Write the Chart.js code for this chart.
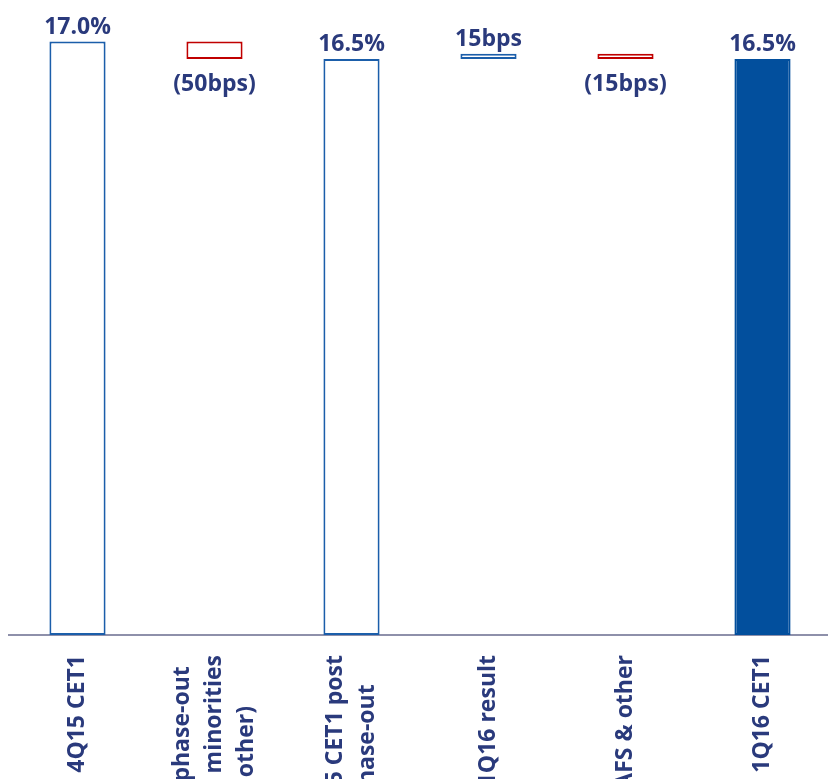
<!DOCTYPE html>
<html>
<head>
<meta charset="utf-8">
<script src="https://cdn.jsdelivr.net/npm/chart.js@4.4.1/dist/chart.umd.min.js"></script>
<style>
  html, body { margin: 0; padding: 0; background: #fff; overflow: hidden; }
  #wrap { width: 831px; height: 779px; position: relative; }
</style>
</head>
<body>
<div id="wrap"><canvas id="chart"></canvas></div>
<script>
// waterfall data
const categories = [
    ['4Q15 CET1'],
    ['2016 phase-out', '(DTAs, minorities', '& other)'],
    ['4Q15 CET1 post', 'phase-out'],
    ['1Q16 result'],
    ['AFS & other'],
    ['1Q16 CET1']
];
const values = [17.0, -0.50, 16.5, 0.15, -0.15, 16.5];
const kinds = ['total', 'delta', 'total', 'delta', 'delta', 'total'];
const valueLabels = ['17.0%', '(50bps)', '16.5%', '15bps', '(15bps)', '16.5%'];

const BLUE = '#1b5eaa';
const FILL = '#024f9d';
const RED = '#c00000';
const TEXT = '#2a3a7c';
const FONT = '"Open Sans", sans-serif';

// floating ranges from the running total
let running = 0;
const ranges = values.map((v, i) => {
    if (kinds[i] === 'total') {
        running = v;
        return [0, v];
    }
    const r = [running, running + v];
    running += v;
    return r;
});

const lastTotal = kinds.lastIndexOf('total');
const borderColors = values.map((v, i) => {
    if (i === lastTotal) return FILL;
    return kinds[i] === 'delta' && v < 0 ? RED : BLUE;
});
const fillColors = values.map((v, i) => i === lastTotal ? FILL : '#ffffff');

const labelsPlugin = {
    id: 'waterfallLabels',
    afterDraw(chart) {
        const ctx = chart.ctx;
        const meta = chart.getDatasetMeta(0);
        const area = chart.chartArea;
        ctx.save();
        ctx.fillStyle = TEXT;
        ctx.font = 'bold 23px ' + FONT;
        ctx.textAlign = 'center';
        meta.data.forEach((el, i) => {
            const top = Math.min(el.y, el.base);
            const bottom = Math.max(el.y, el.base);
            if (kinds[i] === 'delta' && values[i] < 0) {
                ctx.textBaseline = 'middle';
                ctx.fillText(valueLabels[i], el.x, bottom + 25);
            } else {
                ctx.textBaseline = 'alphabetic';
                ctx.fillText(valueLabels[i], el.x, top - 8);
            }
        });

        // rotated category labels, clipped by the bottom edge like the original
        const xs = chart.scales.x;
        const lineH = 32;
        categories.forEach((lines, i) => {
            const x = xs.getPixelForValue(i);
            const maxW = Math.max(...lines.map(l => ctx.measureText(l).width));
            const yc = area.bottom + 20 + maxW / 2;
            lines.forEach((line, j) => {
                ctx.save();
                ctx.translate(x + (j - (lines.length - 1) / 2) * lineH, yc);
                ctx.rotate(-Math.PI / 2);
                ctx.textBaseline = 'middle';
                ctx.fillText(line, 0, 0);
                ctx.restore();
            });
        });
        ctx.restore();
    }
};

new Chart(document.getElementById('chart'), {
    type: 'bar',
    data: {
        labels: categories.map(c => c.join(' ')),
        datasets: [{
            data: ranges,
            backgroundColor: fillColors,
            borderColor: borderColors,
            borderWidth: 2,
            borderSkipped: false,
            barPercentage: 0.41,
            categoryPercentage: 1.0
        }]
    },
    options: {
        responsive: true,
        maintainAspectRatio: false,
        animation: false,
        layout: { padding: { left: 9, right: 0, top: 0, bottom: 136 } },
        plugins: {
            legend: { display: false },
            tooltip: { enabled: false }
        },
        scales: {
            x: {
                grid: { display: false },
                ticks: { display: false },
                border: { display: true, color: '#8e90aa', width: 2 }
            },
            y: {
                display: false,
                min: 0,
                max: 18.19
            }
        }
    },
    plugins: [labelsPlugin]
});
</script>
</body>
</html>
